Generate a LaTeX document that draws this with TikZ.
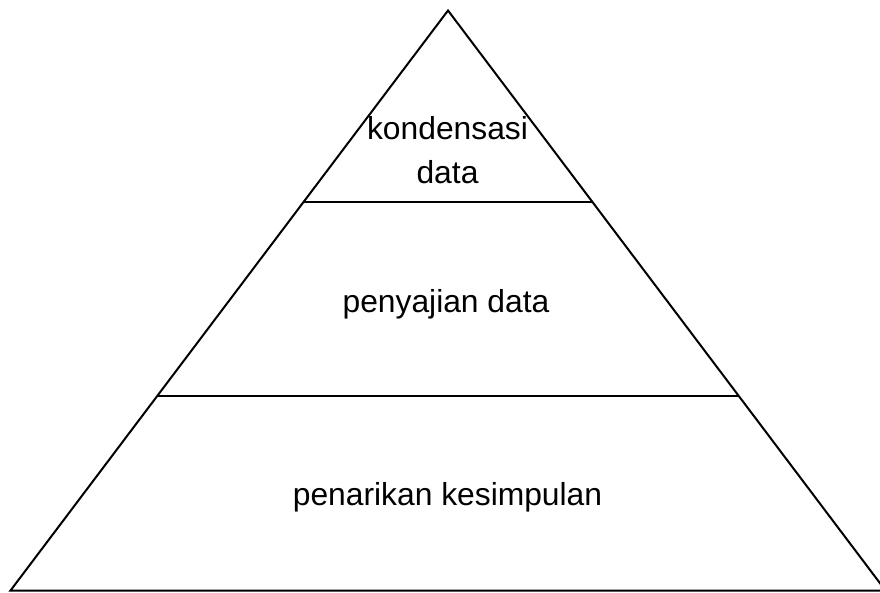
\documentclass[tikz,border=0pt]{standalone}
\usepackage{fontspec}
\setmainfont{Liberation Sans}
\usetikzlibrary{calc}
\begin{document}
\begin{tikzpicture}[x=1pt,y=-1pt,
  edge/.style={line width=2pt,line join=miter},
  lbl/.style={font=\fontsize{31.8}{38}\selectfont,inner sep=0pt,anchor=base}]
\useasboundingbox (0,0) rectangle (880,592);
\clip (0,0) rectangle (880,592);
\coordinate (A) at (448,10.5);
\coordinate (L) at (10.5,590.5);
\coordinate (R) at (885.5,590.5);
\coordinate (l1) at ($(A)!0.331!(L)$);
\coordinate (r1) at ($(A)!0.331!(R)$);
\coordinate (l2) at ($(A)!0.6655!(L)$);
\coordinate (r2) at ($(A)!0.6655!(R)$);
\draw[edge] (L) -- (A) -- (R) -- cycle;
\draw[edge] (l1) -- (r1);
\draw[edge] (l2) -- (r2);
\node[lbl] (k1) at (447.5,139) {kondensasi};
\node[lbl] (k2) at (447.5,183) {data};
\node[lbl] (p) at (446,312) {penyajian data};
\node[lbl] (q) at (447.5,505) {penarikan kesimpulan};
\end{tikzpicture}
\end{document}
